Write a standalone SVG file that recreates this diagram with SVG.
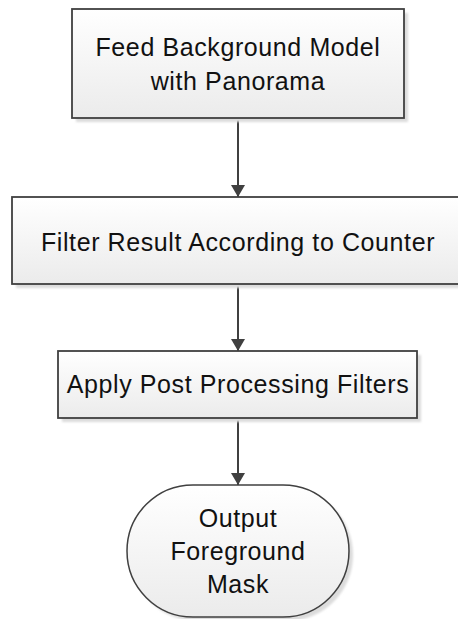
<svg xmlns="http://www.w3.org/2000/svg" width="458" height="619" viewBox="0 0 458 619">
  <style>
    .box { fill: url(#boxFill); stroke: #404040; stroke-width: 1.8; }
    .shadow { fill: #dcdcdc; filter: url(#soft); }
    .label { font-family: "Liberation Sans", Arial, sans-serif; font-size: 25px; letter-spacing: 0.6px; fill: #111; text-anchor: middle; }
    .edge { stroke: #404040; stroke-width: 2; fill: none; marker-end: url(#arrow); }
  </style>
  <defs>
    <linearGradient id="boxFill" x1="0" y1="0" x2="0" y2="1">
      <stop offset="0" stop-color="#ffffff"/>
      <stop offset="1" stop-color="#ebebeb"/>
    </linearGradient>
    <filter id="soft" x="-10%" y="-10%" width="120%" height="130%">
      <feGaussianBlur stdDeviation="1.2"/>
    </filter>
    <marker id="arrow" viewBox="0 0 12 14" refX="12" refY="7" markerWidth="12" markerHeight="14" markerUnits="userSpaceOnUse" orient="auto">
      <path d="M0,0 L12,7 L0,14 Z" fill="#404040"/>
    </marker>
  </defs>

  <g id="connectors">
    <line class="edge" x1="238" y1="118" x2="238" y2="197"/>
    <line class="edge" x1="238" y1="284" x2="238" y2="351"/>
    <line class="edge" x1="238" y1="418" x2="238" y2="485"/>
  </g>

  <g id="feed-model">
    <rect class="shadow" x="76" y="13" width="332" height="109"/>
    <rect class="box" x="72" y="9" width="332" height="109"/>
    <text class="label" x="238" y="56">Feed Background Model</text>
    <text class="label" x="238" y="90">with Panorama</text>
  </g>

  <g id="filter-result">
    <rect class="shadow" x="16" y="201" width="452" height="87"/>
    <rect class="box" x="12" y="197" width="452" height="87"/>
    <text class="label" x="238" y="251">Filter Result According to Counter</text>
  </g>

  <g id="post-processing">
    <rect class="shadow" x="62" y="355" width="359" height="67"/>
    <rect class="box" x="58" y="351" width="359" height="67"/>
    <text class="label" x="238" y="393">Apply Post Processing Filters</text>
  </g>

  <g id="output-mask">
    <rect class="shadow" x="131" y="489" width="222" height="132" rx="66" ry="66"/>
    <rect class="box" x="127" y="485" width="222" height="132" rx="66" ry="66" style="stroke-width:1.5"/>
    <text class="label" x="238" y="527">Output</text>
    <text class="label" x="238" y="560">Foreground</text>
    <text class="label" x="238" y="593">Mask</text>
  </g>
</svg>
